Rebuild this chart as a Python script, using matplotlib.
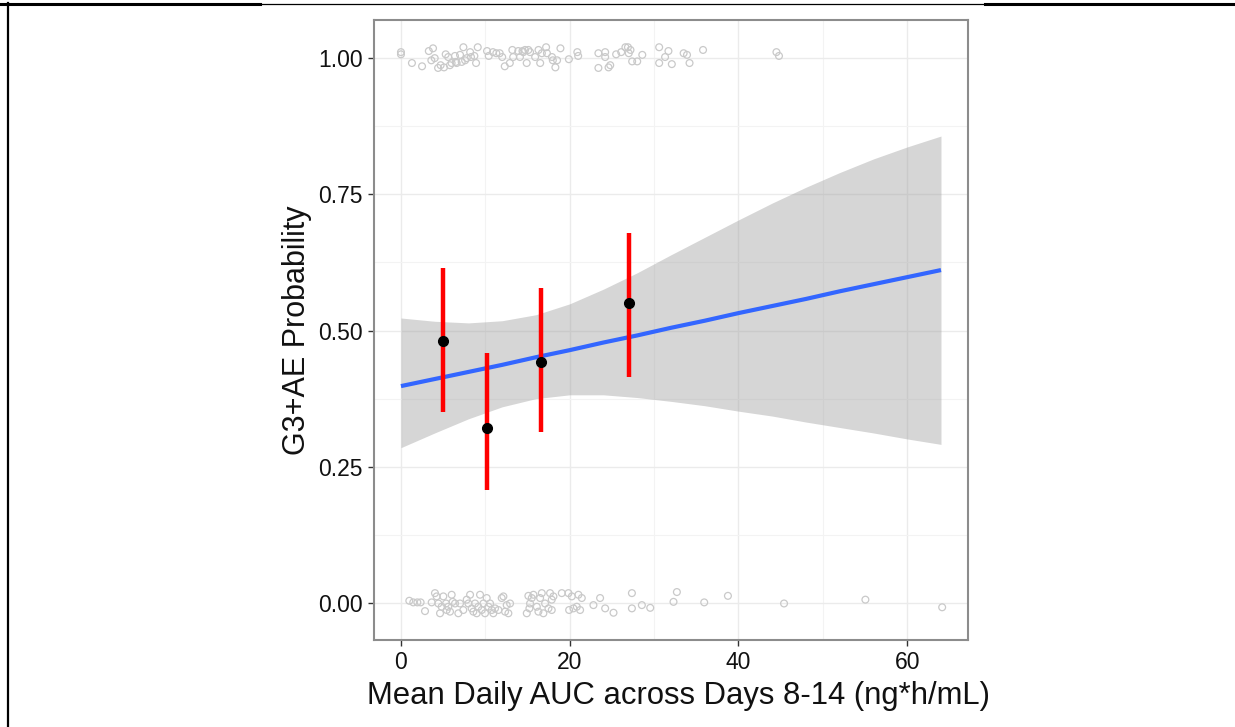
import numpy as np
import matplotlib
matplotlib.use('Agg')
import matplotlib.pyplot as plt
from matplotlib.lines import Line2D

plt.rcParams['font.family'] = ['Liberation Sans', 'DejaVu Sans']

# individual subjects, G3+AE = 1 (jittered around 1)
auc_event = [0.0, 0.0, 1.3, 2.5, 3.3, 3.8, 3.6, 4.0, 4.4, 4.7, 5.3, 5.6, 5.1, 5.8, 6.0,
             6.4, 6.5, 6.6, 7.0, 7.2, 7.4, 7.6, 7.8, 8.2, 8.3, 8.7, 8.9, 9.1,
             10.2, 10.4, 10.9, 11.3, 11.7, 12.0, 12.3, 12.9, 13.2, 13.3, 13.9, 14.1,
             14.4, 14.5, 14.7, 14.9, 15.1, 15.3, 15.9, 16.3, 16.5, 16.7, 17.2, 17.3,
             17.9, 18.0, 18.3, 18.5, 18.9, 19.9, 20.9, 21.0, 23.4, 23.4, 24.2, 24.2,
             24.6, 24.8, 25.5, 26.1, 26.6, 26.9, 27.2, 27.0, 27.4, 28.0, 28.6, 30.6,
             31.7, 31.3, 30.6, 32.1, 33.5, 33.9, 34.2, 35.8, 44.5, 44.8]
y_event = [1.011, 1.007, 0.991, 0.985, 1.013, 1.018, 0.996, 1.000, 0.982, 0.987, 1.007,
           1.002, 0.983, 0.987, 0.991, 1.004, 0.993, 0.991, 1.006, 0.993, 1.020, 0.996,
           1.000, 1.011, 1.002, 1.004, 0.991, 1.020, 1.013, 1.004, 1.011, 1.009, 1.009,
           1.002, 0.985, 0.991, 1.015, 1.002, 1.013, 1.002, 1.013, 1.011, 1.015, 0.991,
           1.015, 1.011, 1.002, 1.015, 0.991, 1.009, 1.020, 1.009, 1.002, 0.996, 0.983,
           0.996, 1.018, 0.998, 1.011, 1.004, 1.009, 0.982, 1.011, 1.002, 0.983, 0.987,
           1.007, 1.011, 1.020, 1.020, 1.015, 1.009, 0.994, 0.994, 1.006, 1.020, 1.013,
           1.002, 0.991, 0.989, 1.009, 1.006, 0.991, 1.015, 1.011, 1.004]

# individual subjects, G3+AE = 0 (jittered around 0)
auc_none = [0.99, 1.46, 1.94, 2.33, 2.85, 3.64, 4.03, 4.23, 4.43, 4.63, 4.82, 5.02, 5.34,
            5.42, 5.61, 5.81, 6.01, 6.13, 6.41, 6.80, 7.00, 7.39, 7.79, 7.99, 8.19, 8.38,
            8.58, 8.78, 8.98, 9.17, 9.37, 9.57, 9.77, 9.96, 10.16, 10.36, 10.56, 10.76,
            10.95, 11.15, 11.55, 11.94, 12.14, 12.34, 12.53, 12.73, 12.93, 14.91, 15.10,
            15.22, 15.30, 15.50, 15.70, 16.10, 16.29, 16.49, 16.69, 16.88, 17.08, 17.48,
            17.67, 17.87, 18.07, 17.87, 19.06, 19.85, 19.93, 20.25, 20.44, 20.84, 21.03,
            21.23, 21.43, 22.81, 23.60, 24.20, 25.19, 27.37, 27.37, 28.55, 29.54, 32.30,
            32.70, 35.94, 38.75, 45.40, 55.04, 64.14]
y_none = [0.004, 0.001, 0.001, 0.001, -0.015, 0.001, 0.018, 0.012, -0.001, -0.019, -0.007,
          0.012, -0.001, -0.013, -0.007, -0.016, 0.015, 0.002, -0.001, -0.019, -0.001,
          -0.013, 0.006, -0.001, 0.015, -0.010, -0.016, -0.001, -0.019, -0.007, 0.015,
          -0.013, -0.001, -0.019, 0.009, -0.007, -0.001, -0.013, -0.019, -0.010, -0.013,
          0.009, 0.012, -0.016, -0.004, -0.019, -0.001, -0.019, 0.013, -0.010, -0.001,
          0.009, 0.015, -0.007, -0.016, 0.009, 0.018, -0.019, -0.001, -0.010, 0.018,
          0.006, 0.012, -0.013, 0.018, 0.018, -0.013, 0.012, -0.010, -0.007, 0.015,
          -0.013, 0.009, -0.004, 0.009, -0.010, -0.018, 0.018, -0.010, -0.004, -0.009,
          0.002, 0.020, 0.001, 0.013, -0.001, 0.006, -0.008]

# logistic fit and 95% band
fit_x = [0, 4, 8, 12, 16, 20, 24, 28, 32, 36, 40, 44, 48, 52, 56, 60, 64]
fit_y = [0.398, 0.411, 0.424, 0.437, 0.451, 0.464, 0.478, 0.491, 0.505, 0.518, 0.532,
         0.545, 0.558, 0.572, 0.585, 0.598, 0.611]
fit_lo = [0.285, 0.312, 0.338, 0.360, 0.375, 0.382, 0.382, 0.377, 0.370, 0.362, 0.352,
          0.343, 0.332, 0.322, 0.312, 0.301, 0.291]
fit_hi = [0.523, 0.517, 0.514, 0.518, 0.529, 0.549, 0.576, 0.606, 0.639, 0.671, 0.703,
          0.734, 0.763, 0.790, 0.815, 0.837, 0.857]

# observed proportion by AUC quartile
bin_x = [5.0, 10.2, 16.6, 27.0]
bin_p = [0.481, 0.321, 0.442, 0.550]
bin_lo = [0.350, 0.207, 0.314, 0.415]
bin_hi = [0.615, 0.459, 0.578, 0.679]

fig = plt.figure(figsize=(12.35, 7.27), dpi=100)
ax = fig.add_axes([0.3028, 0.1197, 0.481, 0.8528])

ax.scatter(auc_event, y_event, s=24, facecolors='none', edgecolors='#c9c9c9', linewidths=0.9, zorder=2)
ax.scatter(auc_none, y_none, s=24, facecolors='none', edgecolors='#c9c9c9', linewidths=0.9, zorder=2)

ax.fill_between(fit_x, fit_lo, fit_hi, color='#999999', alpha=0.4, linewidth=0, zorder=3)
ax.plot(fit_x, fit_y, color='#3366FF', linewidth=3, solid_capstyle='butt', zorder=4)

ax.vlines(bin_x, bin_lo, bin_hi, color='#ff0000', linewidth=3.2, zorder=5)
ax.plot(bin_x, bin_p, 'o', color='black', markersize=7, zorder=6)

ax.set_xlim(-3.2, 67.2)
ax.set_ylim(-0.068, 1.07)
ax.set_xticks([0, 20, 40, 60])
ax.set_xticks([10, 30, 50], minor=True)
ax.set_yticks([0, 0.25, 0.5, 0.75, 1.0])
ax.set_yticklabels(['0.00', '0.25', '0.50', '0.75', '1.00'])
ax.set_yticks([0.125, 0.375, 0.625, 0.875], minor=True)

ax.grid(which='major', color='#ebebeb', linewidth=1.0, zorder=0)
ax.grid(which='minor', color='#f3f3f3', linewidth=0.8, zorder=0)
ax.set_axisbelow(True)
ax.tick_params(which='major', length=4, width=1, color='#333333', labelsize=16.5,
               labelcolor='#111111', pad=4)
ax.tick_params(which='minor', length=0)
for sp in ax.spines.values():
    sp.set_color('#8c8c8c')
    sp.set_linewidth(1.5)

ax.set_xlabel('Mean Daily AUC across Days 8-14 (ng*h/mL)', fontsize=22.3, color='#111111')
ax.set_ylabel('G3+AE Probability', fontsize=22, color='#111111')
ax.xaxis.set_label_coords(0.513, -0.066)
ax.yaxis.set_label_coords(-0.105, 0.5)

# page frame lines around the figure
fig.add_artist(Line2D([0, 260 / 1235], [1 - 3.5 / 727] * 2, color='black', linewidth=2.2))
fig.add_artist(Line2D([260 / 1235, 985 / 1235], [1 - 3.5 / 727] * 2, color='black', linewidth=0.9))
fig.add_artist(Line2D([985 / 1235, 1], [1 - 3.5 / 727] * 2, color='black', linewidth=2.2))
fig.add_artist(Line2D([8 / 1235] * 2, [0, 1 - 2.5 / 727], color='black', linewidth=1.6))

fig.savefig('out.png', dpi=100)
